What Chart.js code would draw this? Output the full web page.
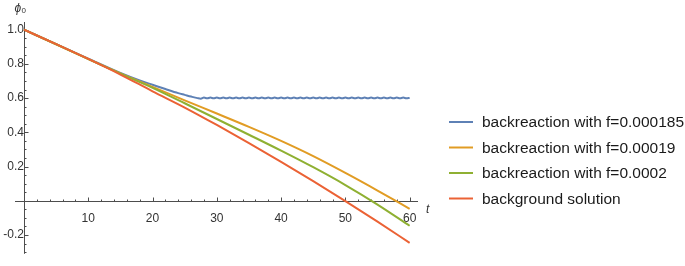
<!DOCTYPE html>
<html>
<head>
<meta charset="utf-8">
<script src="https://cdn.jsdelivr.net/npm/chart.js@4.4.0/dist/chart.umd.min.js"></script>
<style>
  body { margin: 0; background: #fff; }
  #wrap { width: 685px; height: 266px; position: relative; }
</style>
</head>
<body>
<div id="wrap"><canvas id="chart"></canvas></div>
<script>
// Values
const tValues = [0, 5, 10, 15, 20, 25, 30, 35, 40, 45, 50, 55, 60];
const background = [1.0, 0.916, 0.829, 0.738, 0.640, 0.545, 0.443, 0.337, 0.228, 0.115, -0.002, -0.122, -0.246];
const f00019 = [1.0, 0.915, 0.829, 0.745, 0.666, 0.587, 0.510, 0.432, 0.350, 0.261, 0.163, 0.060, -0.047];
const f00020 = [1.0, 0.915, 0.828, 0.743, 0.660, 0.570, 0.478, 0.386, 0.293, 0.196, 0.092, -0.022, -0.146];

// blue curve bends to ~0.6 and then wiggles around it
const tBlue = [0, 5, 10, 15, 18, 20, 22, 24, 25, 26, 27, 27.5,
  28, 28.5, 29, 29.5, 30, 30.5, 31, 31.5, 32, 32.5, 33, 33.5, 34, 34.5, 35, 35.5,
  36, 36.5, 37, 37.5, 38, 38.5, 39, 39.5, 40, 40.5, 41, 41.5, 42, 42.5, 43, 43.5,
  44, 44.5, 45, 45.5, 46, 46.5, 47, 47.5, 48, 48.5, 49, 49.5, 50, 50.5, 51, 51.5,
  52, 52.5, 53, 53.5, 54, 54.5, 55, 55.5, 56, 56.5, 57, 57.5, 58, 58.5, 59, 59.5, 60];
const f000185 = [1.0, 0.916, 0.831, 0.747, 0.703, 0.678, 0.653, 0.629, 0.619, 0.609, 0.600, 0.597,
  0.603, 0.599, 0.603, 0.599, 0.603, 0.599, 0.603, 0.599, 0.603, 0.599, 0.603, 0.599, 0.603, 0.599, 0.603, 0.599,
  0.603, 0.599, 0.603, 0.599, 0.603, 0.599, 0.603, 0.599, 0.603, 0.599, 0.603, 0.599, 0.603, 0.599, 0.603, 0.599,
  0.603, 0.599, 0.603, 0.599, 0.603, 0.599, 0.603, 0.599, 0.603, 0.599, 0.603, 0.599, 0.603, 0.599, 0.603, 0.599,
  0.603, 0.599, 0.603, 0.599, 0.603, 0.599, 0.603, 0.599, 0.603, 0.599, 0.603, 0.599, 0.603, 0.599, 0.603, 0.599, 0.601];

const seriesLabels = ['backreaction with f=0.000185', 'backreaction with f=0.00019', 'backreaction with f=0.0002', 'background solution'];
const seriesColors = ['#5e81b5', '#e19c24', '#8fb032', '#eb6235'];
const xMajor = [10, 20, 30, 40, 50, 60];
const yMajor = [-0.2, 0.2, 0.4, 0.6, 0.8, 1.0];

function toPoints(ts, vals) {
    return ts.map((t, i) => ({ x: t, y: vals[i] }));
}

function isMajor(v, list) {
    return list.some(m => Math.abs(m - v) < 1e-6);
}

// Mathematica-like axes crossing at the origin, ticks pointing inwards
const axesPlugin = {
    id: 'mmaAxes',
    beforeDatasetsDraw(chart) {
        const ctx = chart.ctx;
        const xs = chart.scales.x;
        const ys = chart.scales.y;
        const area = chart.chartArea;
        const x0 = Math.round(xs.getPixelForValue(0)) + 0.5;
        const y0 = Math.round(ys.getPixelForValue(0)) + 0.5;

        ctx.save();
        ctx.strokeStyle = '#4d4d4d';
        ctx.lineWidth = 1;
        ctx.beginPath();
        ctx.moveTo(area.left, y0);
        ctx.lineTo(area.right, y0);
        ctx.moveTo(x0, area.top);
        ctx.lineTo(x0, area.bottom);

        xs.ticks.forEach(t => {
            if (Math.abs(t.value) < 1e-6) return;
            const px = Math.round(xs.getPixelForValue(t.value)) + 0.5;
            const len = isMajor(t.value, xMajor) ? 4 : 2;
            ctx.moveTo(px, y0);
            ctx.lineTo(px, y0 - len);
        });
        ys.ticks.forEach(t => {
            if (Math.abs(t.value) < 1e-6) return;
            const py = Math.round(ys.getPixelForValue(t.value)) + 0.5;
            const len = isMajor(t.value, yMajor) ? 4 : 2;
            ctx.moveTo(x0, py);
            ctx.lineTo(x0 + len, py);
        });
        ctx.stroke();

        // axis names
        ctx.fillStyle = '#333';
        ctx.textBaseline = 'alphabetic';
        ctx.textAlign = 'left';
        ctx.font = 'italic 12px "Liberation Sans", Arial, sans-serif';
        ctx.fillText('ϕ', 14.5, 11.5);
        ctx.font = '8px "Liberation Sans", Arial, sans-serif';
        ctx.fillText('0', 21.5, 12.5);
        ctx.font = 'italic 12px "Liberation Sans", Arial, sans-serif';
        ctx.fillText('t', 426, 213);
        ctx.restore();
    },
    afterDraw(chart) {
        const ctx = chart.ctx;
        ctx.save();
        ctx.textBaseline = 'middle';
        ctx.textAlign = 'left';
        ctx.font = '15.5px "Liberation Sans", Arial, sans-serif';
        chart.data.datasets.forEach((ds, i) => {
            const y = 122 + i * 25.5;
            ctx.strokeStyle = ds.borderColor;
            ctx.lineWidth = 2;
            ctx.beginPath();
            ctx.moveTo(449, y);
            ctx.lineTo(473, y);
            ctx.stroke();
            ctx.fillStyle = '#1a1a1a';
            ctx.fillText(ds.label, 482, y + 1);
        });
        ctx.restore();
    }
};

const datasets = [
    { label: seriesLabels[0], data: toPoints(tBlue, f000185), borderColor: seriesColors[0], order: 3 },
    { label: seriesLabels[1], data: toPoints(tValues, f00019), borderColor: seriesColors[1], order: 2 },
    { label: seriesLabels[2], data: toPoints(tValues, f00020), borderColor: seriesColors[2], order: 1 },
    { label: seriesLabels[3], data: toPoints(tValues, background), borderColor: seriesColors[3], order: 0 }
].map(ds => Object.assign(ds, {
    borderWidth: 2,
    pointRadius: 0,
    fill: false,
    cubicInterpolationMode: 'monotone'
}));

new Chart(document.getElementById('chart'), {
    type: 'line',
    data: { datasets: datasets },
    options: {
        responsive: true,
        maintainAspectRatio: false,
        animation: false,
        layout: { padding: { left: 15, right: 267, top: 22, bottom: 0 } },
        plugins: { legend: { display: false }, tooltip: { enabled: false } },
        scales: {
            x: {
                type: 'linear',
                min: -1.4,
                max: 61.3,
                position: { y: 0 },
                grid: { display: false },
                border: { display: false },
                ticks: {
                    stepSize: 2,
                    includeBounds: false,
                    autoSkip: false,
                    maxRotation: 0,
                    padding: 3,
                    color: '#333',
                    font: { family: '"Liberation Sans", Arial, sans-serif', size: 12 },
                    callback: v => isMajor(v, xMajor) ? String(v) : ''
                }
            },
            y: {
                type: 'linear',
                min: -0.31,
                max: 1.045,
                position: { x: 0 },
                grid: { display: false },
                border: { display: false },
                ticks: {
                    stepSize: 0.05,
                    includeBounds: false,
                    autoSkip: false,
                    padding: 5,
                    color: '#333',
                    font: { family: '"Liberation Sans", Arial, sans-serif', size: 12 },
                    callback: v => isMajor(v, yMajor) ? v.toFixed(1) : ''
                }
            }
        }
    },
    plugins: [axesPlugin]
});
</script>
</body>
</html>
